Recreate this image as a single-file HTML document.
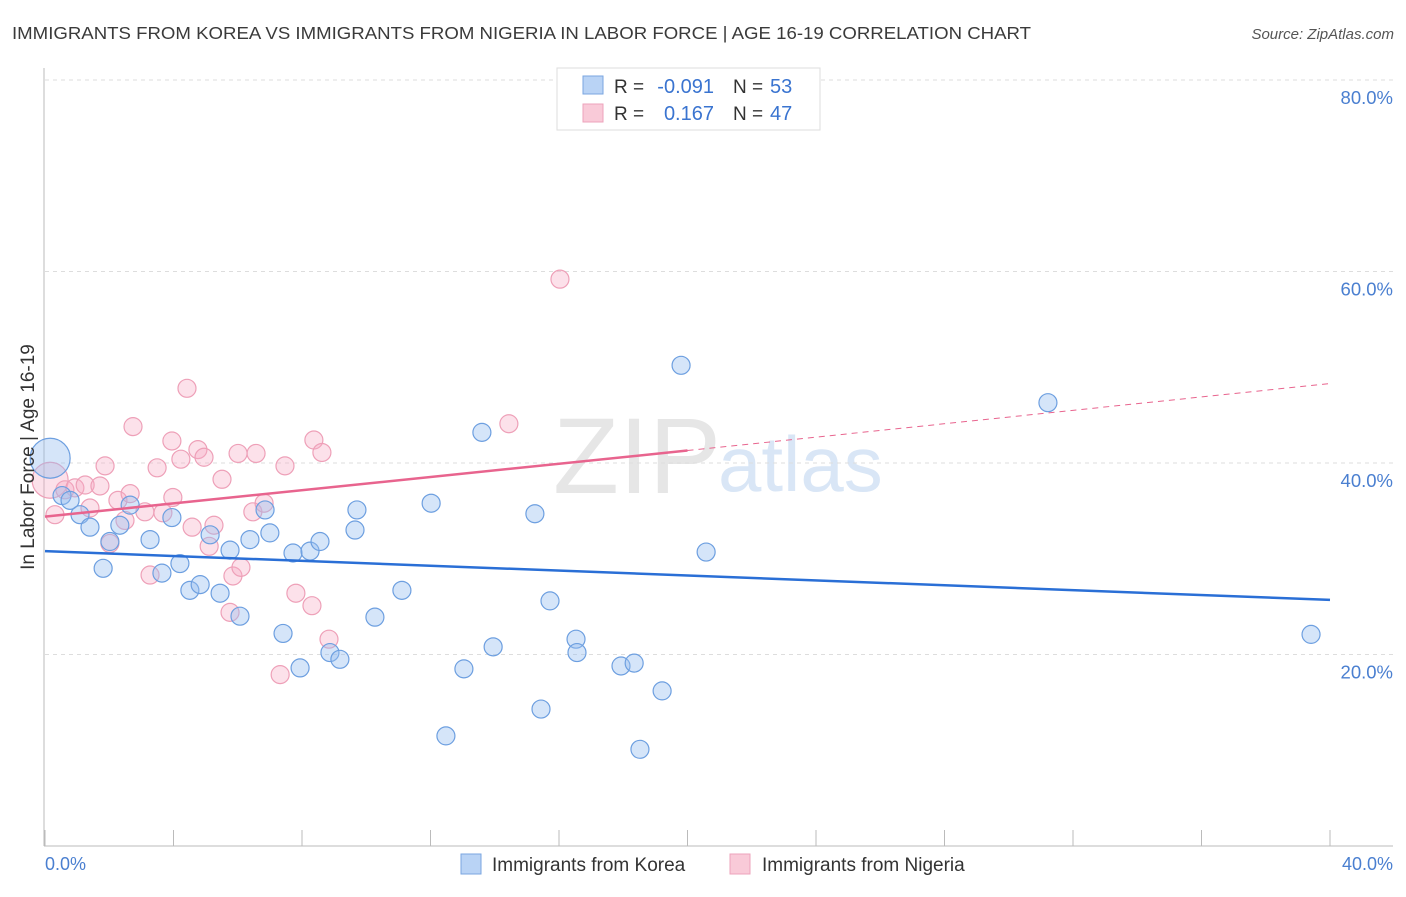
<!DOCTYPE html>
<html><head><meta charset="utf-8"><style>
body{margin:0;background:#fff;font-family:"Liberation Sans",sans-serif}
svg text{font-family:"Liberation Sans",sans-serif}
</style></head><body>
<svg id="c" width="1406" height="892" xmlns="http://www.w3.org/2000/svg">
<text x="12" y="39" font-size="17.5" fill="#3a3a3a" textLength="1019" lengthAdjust="spacingAndGlyphs">IMMIGRANTS FROM KOREA VS IMMIGRANTS FROM NIGERIA IN LABOR FORCE | AGE 16-19 CORRELATION CHART</text>
<text x="1394" y="39" font-size="15" fill="#555" font-style="italic" text-anchor="end">Source: ZipAtlas.com</text>
<g>
<text x="553" y="493" font-size="108" fill="#e6e6e6" font-family="Liberation Serif">ZIP</text>
<text x="718" y="491" font-size="78" fill="#d9e6f6">atlas</text>
</g>
<g id="grid"></g>
<g id="marks"></g>
<text transform="translate(34,457) rotate(-90)" font-size="19" fill="#333" text-anchor="middle">In Labor Force | Age 16-19</text>
<text x="45" y="870" font-size="18" fill="#4a7fd0">0.0%</text>
<text x="1393" y="870" font-size="18" fill="#4a7fd0" text-anchor="end">40.0%</text>
<g>
<rect x="557" y="68" width="263" height="62" fill="#fff" stroke="#ddd"/>
<rect x="583" y="76" width="20" height="18" fill="#b9d3f5" stroke="#7aa6e0"/>
<rect x="583" y="104" width="20" height="18" fill="#f9cad8" stroke="#eda3bb"/>
<text x="614" y="93" font-size="19" fill="#333">R =</text>
<text x="714" y="93" font-size="20" fill="#3a74d0" text-anchor="end">-0.091</text>
<text x="733" y="93" font-size="19" fill="#333">N =</text>
<text x="770" y="93" font-size="20" fill="#3a74d0">53</text>
<text x="614" y="120" font-size="19" fill="#333">R =</text>
<text x="714" y="120" font-size="20" fill="#3a74d0" text-anchor="end">0.167</text>
<text x="733" y="120" font-size="19" fill="#333">N =</text>
<text x="770" y="120" font-size="20" fill="#3a74d0">47</text>
</g>
<g>
<rect x="461" y="854" width="20" height="20" fill="#b9d3f5" stroke="#7aa6e0"/>
<text x="492" y="871" font-size="19" fill="#333">Immigrants from Korea</text>
<rect x="730" y="854" width="20" height="20" fill="#f9cad8" stroke="#eda3bb"/>
<text x="762" y="871" font-size="19" fill="#333">Immigrants from Nigeria</text>
</g>
</svg>
<script>
const yTicks=[20,40,60,80];
const yTickLabels=["20.0%","40.0%","60.0%","80.0%"];
const koreaX=[0.16,0.53,0.78,1.09,1.40,1.81,2.02,2.33,2.65,3.27,3.64,3.95,4.20,4.51,4.83,5.14,5.45,5.76,6.07,6.38,6.85,7.00,7.41,7.72,7.94,8.25,8.56,8.87,9.18,9.65,9.71,10.27,11.11,12.02,12.48,13.04,13.60,13.95,15.25,15.44,15.72,16.53,16.56,17.93,18.34,18.52,19.21,19.80,20.58,31.22,39.41];
const koreaY=[40.5,36.6,36.1,34.6,33.3,29.0,31.8,33.5,35.6,32.0,28.5,34.3,29.5,26.7,27.3,32.5,26.4,30.9,24.0,32.0,35.1,32.7,22.2,30.6,18.6,30.8,31.8,20.2,19.5,33.0,35.1,23.9,26.7,35.8,11.5,18.5,43.2,20.8,34.7,14.3,25.6,21.6,20.2,18.8,19.1,10.1,16.2,50.2,30.7,46.3,22.1];
const nigeriaX=[0.16,0.31,0.62,0.93,1.25,1.40,1.71,1.87,2.02,2.27,2.49,2.65,2.74,3.11,3.27,3.49,3.67,3.95,3.98,4.23,4.42,4.58,4.76,4.95,5.11,5.26,5.51,5.76,5.85,6.01,6.10,6.47,6.57,6.82,7.32,7.47,7.81,8.31,8.37,8.62,8.84,14.44,16.03];
const nigeriaY=[38.2,34.6,37.2,37.4,37.7,35.3,37.6,39.7,31.6,36.1,34.0,36.8,43.8,34.9,28.3,39.5,34.8,42.3,36.4,40.4,47.8,33.3,41.4,40.6,31.3,33.5,38.3,24.4,28.2,41.0,29.1,34.9,41.0,35.8,17.9,39.7,26.4,25.1,42.4,41.1,21.6,44.1,59.2];
const koreaTrend=[30.8,25.7];
const nigeriaTrend=[34.4,41.3,48.3];
const X=v=>45+v/40*1285, Y=v=>846-v/20*191.5;
const NS="http://www.w3.org/2000/svg";
function mk(t,a,p){const e=document.createElementNS(NS,t);for(const k in a)e.setAttribute(k,a[k]);p.appendChild(e);return e;}
const g=document.getElementById('grid'), m=document.getElementById('marks');
yTicks.forEach((t,i)=>{
 const l=mk('line',{x1:45,x2:1393,y1:Y(t),y2:Y(t),stroke:'#ddd','stroke-dasharray':'4,4'},g);
 
 
 const tx=mk('text',{x:1393,y:Y(t)+24,'font-size':18.5,fill:'#4a7fd0','text-anchor':'end'},g);
 tx.textContent=yTickLabels[i];
 
 
});
const ax=mk('line',{x1:44,x2:44,y1:68,y2:846,stroke:'#bbb'},g);


const bx=mk('line',{x1:44,x2:1393,y1:846,y2:846,stroke:'#bbb'},g);


for(let i=0;i<=10;i++){
 const tk=mk('line',{x1:X(i*4),x2:X(i*4),y1:830,y2:846,stroke:'#bbb'},g);
 
 
}
nigeriaX.forEach((x,i)=>{
 const c=mk('circle',{cx:X(x),cy:Y(nigeriaY[i]),r:i===0?18:9,fill:'rgba(245,170,195,0.35)',stroke:'#eea0b8','stroke-width':1.2},m);
 
 
});
koreaX.forEach((x,i)=>{
 const c=mk('circle',{cx:X(x),cy:Y(koreaY[i]),r:i===0?20:9,fill:'rgba(150,190,240,0.4)',stroke:'#6d9fe0','stroke-width':1.2},m);
 
 
});
const kt=mk('line',{x1:X(0),y1:Y(koreaTrend[0]),x2:X(40),y2:Y(koreaTrend[1]),stroke:'#2a6fd6','stroke-width':2.5},m);


const nt=mk('line',{x1:X(0),y1:Y(nigeriaTrend[0]),x2:X(20),y2:Y(nigeriaTrend[1]),stroke:'#e8648e','stroke-width':2.5},m);


const nd=mk('line',{x1:X(20),y1:Y(nigeriaTrend[1]),x2:X(40),y2:Y(nigeriaTrend[2]),stroke:'#e8648e','stroke-width':1,'stroke-dasharray':'6,5'},m);


</script>
</body></html>
